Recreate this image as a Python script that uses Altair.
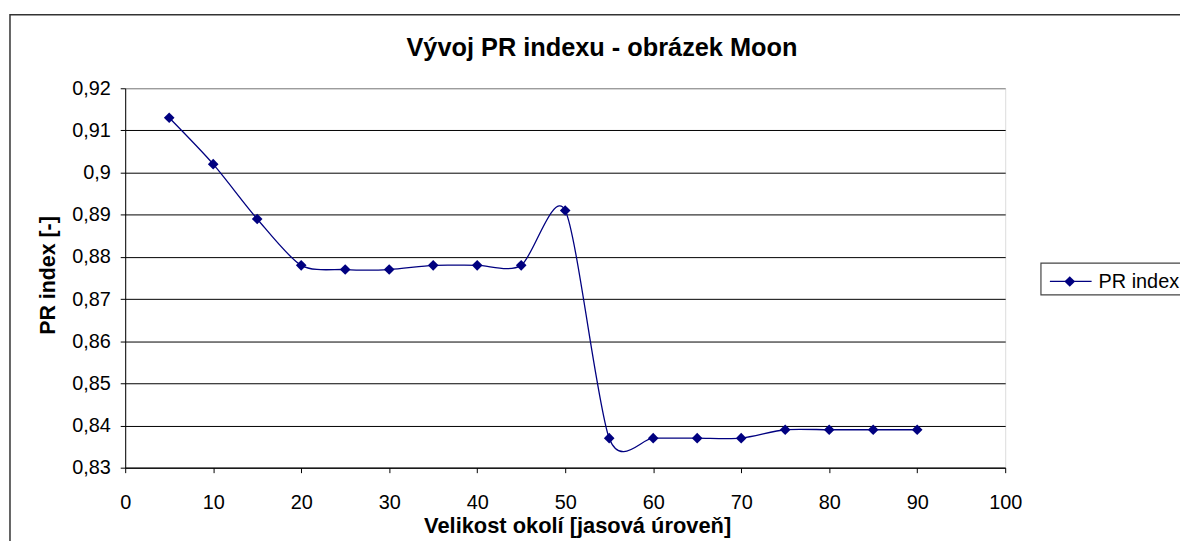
import altair as alt
import pandas as pd

# --- data ---
okoli = [5, 10, 15, 20, 25, 30, 35, 40, 45, 50, 55, 60, 65, 70, 75, 80, 85, 90]
pr_index = [0.913, 0.902, 0.889, 0.878, 0.877, 0.877, 0.878, 0.878, 0.878,
            0.891, 0.837, 0.837, 0.837, 0.837, 0.839, 0.839, 0.839, 0.839]
x_ticks = [0, 10, 20, 30, 40, 50, 60, 70, 80, 90, 100]
y_ticks = [0.83, 0.84, 0.85, 0.86, 0.87, 0.88, 0.89, 0.90, 0.91, 0.92]
series_name = "PR index"
title_text = "Vývoj PR indexu - obrázek Moon"
x_title = "Velikost okolí [jasová úroveň]"
y_title = "PR index [-]"

FONT = "Liberation Sans"
NAVY = "#000080"
W, H = 886, 382

df = pd.DataFrame({"okoli": okoli, "pr": pr_index})

xs = alt.X("okoli:Q",
           scale=alt.Scale(domain=[0, 100], nice=False, zero=False),
           axis=alt.Axis(values=x_ticks, title=x_title, grid=False,
                         domainColor="#000000", tickColor="#000000",
                         tickSize=5, labelPadding=20, labelFontSize=20,
                         labelColor="#000000", labelFont=FONT,
                         titleFont=FONT, titleFontSize=22, titleFontWeight="bold",
                         titleColor="#000000", titleX=455, titleY=65,
                         titleAlign="center", titleBaseline="alphabetic",
                         labelFlush=False, labelOverlap=False))
ys = alt.Y("pr:Q",
           scale=alt.Scale(domain=[0.83, 0.92], nice=False, zero=False),
           axis=alt.Axis(values=y_ticks, title=y_title, grid=True,
                         gridColor={"condition": {"test": "datum.value >= 0.9199", "value": "#808080"},
                                    "value": "#000000"},
                         gridWidth=1,
                         labelExpr="replace(format(datum.value, '.2~f'), '.', ',')",
                         domainColor="#000000", tickColor="#000000",
                         tickSize=5, labelPadding=10, labelFontSize=20,
                         labelColor="#000000", labelFont=FONT,
                         titleFont=FONT, titleFontSize=21.5, titleFontWeight="bold",
                         titleColor="#000000", titleX=-71, titleY=188,
                         titleAngle=270, titleAlign="center", titleBaseline="alphabetic",
                         labelFlush=False, labelOverlap=False))

line = alt.Chart(df).mark_line(interpolate="cardinal", tension=0.2, color=NAVY,
                               strokeWidth=1.3).encode(x=xs, y=ys)
pts = alt.Chart(df).mark_point(shape="diamond", filled=True, size=115,
                               color=NAVY, opacity=1).encode(x="okoli:Q", y="pr:Q")

one = alt.Data(values=[{"label": series_name, "title": title_text}])

frame = alt.Chart(one).mark_rect(fillOpacity=0, stroke="#333333", strokeWidth=1.5).encode(
    x=alt.value(-116), x2=alt.value(1300), y=alt.value(-74), y2=alt.value(600))

title_mark = alt.Chart(one).mark_text(align="center", baseline="alphabetic", font=FONT,
                                      fontSize=25.5, fontWeight="bold", color="#000000").encode(
    x=alt.value(480), y=alt.value(-32), text="title:N")

leg_box = alt.Chart(one).mark_rect(fill="#ffffff", stroke="#444444", strokeWidth=1.2).encode(
    x=alt.value(922), x2=alt.value(1300), y=alt.value(176), y2=alt.value(208))
leg_line = alt.Chart(one).mark_rule(color=NAVY, strokeWidth=1.3).encode(
    x=alt.value(931), x2=alt.value(973), y=alt.value(194.5))
leg_pt = alt.Chart(one).mark_point(shape="diamond", filled=True, size=115,
                                   color=NAVY, opacity=1).encode(
    x=alt.value(951), y=alt.value(194.5))
leg_txt = alt.Chart(one).mark_text(align="left", baseline="middle", font=FONT,
                                   fontSize=20, color="#000000").encode(
    x=alt.value(980), y=alt.value(195), text="label:N")

chart = alt.layer(frame, title_mark, line, pts, leg_box, leg_line, leg_pt, leg_txt).properties(
    width=W, height=H,
    autosize=alt.AutoSizeParams(type="none"),
    padding={"left": 118, "top": 79, "right": 176, "bottom": 72},
).configure_view(stroke="#808080", strokeWidth=1).configure(background="#ffffff")

chart.save("out.html", embed_options={"renderer": "svg", "actions": False})
